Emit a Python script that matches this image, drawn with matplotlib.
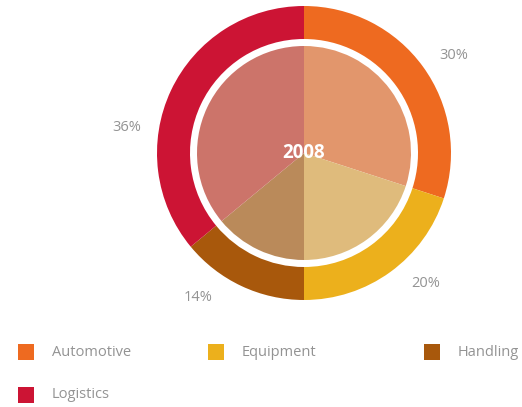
import numpy as np
import matplotlib
matplotlib.use("Agg")
import matplotlib.pyplot as plt
from matplotlib.patches import Rectangle

plt.rcParams['font.family'] = ['Open Sans', 'DejaVu Sans']

# revenue split by business line, 2008
segments = ["Automotive", "Equipment", "Handling", "Logistics"]
shares = [30, 20, 14, 36]
year = "2008"
ring_colors = ["#ee6a20", "#ecb01c", "#a8580c", "#cc1434"]
inner_colors = ["#e2966c", "#dfbb7c", "#ba8a5a", "#cc746a"]

W, H = 522, 407
fig = plt.figure(figsize=(W / 100, H / 100), dpi=100)
ax = fig.add_axes([0, 0, 1, 1])

cx, cy = 304, H - 153
R = 147

# outer ring
ax.pie(shares, radius=R, center=(cx, cy), colors=ring_colors, startangle=90,
       counterclock=False, wedgeprops=dict(width=33, linewidth=0), frame=True)
# inner pie, lighter tints
ax.pie(shares, radius=107, center=(cx, cy), colors=inner_colors, startangle=90,
       counterclock=False, wedgeprops=dict(linewidth=0), frame=True)
ax.set_xlim(0, W)
ax.set_ylim(0, H)
ax.set_aspect('equal')
ax.axis('off')

ax.text(cx, cy, year, color="white", fontsize=13.5, fontweight="bold",
        ha="center", va="center")

grey = "#939393"

# percentage labels outside the ring
bounds = np.cumsum([0] + shares)
label_shift = [-3, 7, -11, 17]  # degrees, nudge labels off the mid angle
for s, a0, a1, d in zip(shares, bounds[:-1], bounds[1:], label_shift):
    ang = np.deg2rad(90 - (a0 + a1) / 2 * 3.6 + d)
    r = 179
    ax.text(cx + r * np.cos(ang), cy + r * np.sin(ang), f"{s}%",
            color=grey, fontsize=10.5, ha="center", va="center")

# legend
leg_pos = [(26, H - 352), (216, H - 352), (432, H - 352), (26, H - 395)]
for name, col, (x, y) in zip(segments, ring_colors, leg_pos):
    ax.add_patch(Rectangle((x - 8, y - 8), 16, 16, color=col, lw=0))
    ax.text(x + 26, y, name, color=grey, fontsize=10.5, ha="left", va="center")

fig.savefig("out.png", dpi=100)
